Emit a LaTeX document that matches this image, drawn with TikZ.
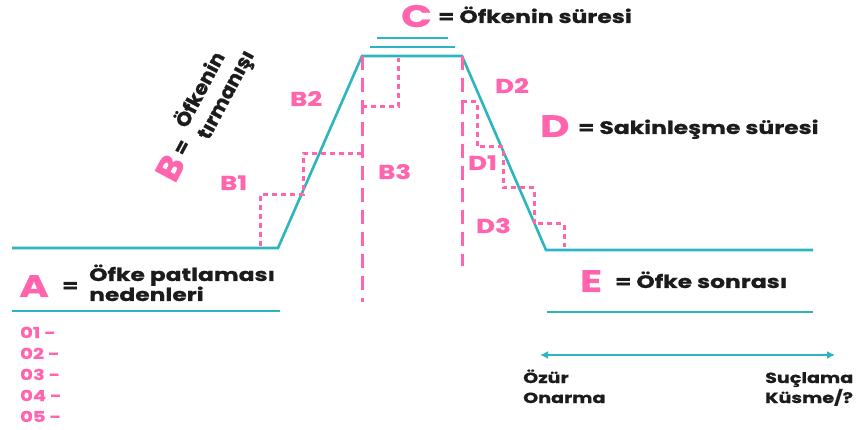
\documentclass[tikz,border=0pt]{standalone}
\usepackage{fontspec}
\setmainfont{Poppins}[FakeStretch=1.3, BoldFeatures={FakeBold=0.8}]
\newfontfamily\plainfont{Poppins}[FakeStretch=1.05, BoldFeatures={FakeBold=1.1}]
\usetikzlibrary{arrows.meta}
\definecolor{teal}{HTML}{2BB5BE}
\definecolor{hpink}{HTML}{FF64AC}
\definecolor{ink}{HTML}{1C1C1C}
\begin{document}
\begin{tikzpicture}[x=1pt,y=-1pt,
  tline/.style={draw=teal, line width=2.6pt},
  sdash/.style={draw=hpink, line width=3pt, dash pattern=on 5pt off 4pt},
  ldash/.style={draw=hpink, line width=3pt, dash pattern=on 14pt off 8pt},
  lbl/.style={font=\bfseries\fontsize{18}{22}\selectfont, text=ink, inner sep=0pt},
  rlbl/.style={font=\plainfont\bfseries\fontsize{19.5}{23}\selectfont, text=ink, inner sep=0pt},
  sml/.style={font=\bfseries\fontsize{14.7}{17}\selectfont, text=ink, inner sep=0pt},
  big/.style={font=\bfseries\fontsize{31}{31}\selectfont, text=hpink, inner sep=0pt},
  rbig/.style={font=\plainfont\bfseries\fontsize{34}{34}\selectfont, text=hpink, inner sep=0pt},
  plbl/.style={font=\bfseries\fontsize{20}{20}\selectfont, text=hpink, inner sep=0pt},
  num/.style={font=\bfseries\fontsize{15}{15}\selectfont, text=hpink, inner sep=0pt}]
\useasboundingbox (0,0) rectangle (857,430);
% main profile
\coordinate (p0) at (12,248);
\coordinate (p1) at (278,248);
\coordinate (p2) at (362,56);
\coordinate (p3) at (462,56);
\coordinate (p4) at (546,250);
\coordinate (p5) at (813,250);
\draw[tline, line join=miter] (p0) -- (p1) -- (p2) -- (p3) -- (p4) -- (p5);
\draw[tline] (370,47) -- (455,47);
\draw[tline] (377,38) -- (448,38);
\draw[tline] (12,311) -- (280,311);
\draw[tline] (547,312) -- (813,312);
% long dashed verticals
\draw[ldash] (362,56) -- (362,302);
\draw[ldash] (462,56) -- (462,266);
% B staircase
\draw[sdash] (260,246) -- (260,195) -- (303,195) -- (303,154) -- (362,154);
\draw[sdash] (362,107) -- (398,107) -- (398,58);
% D staircase
\draw[sdash] (462,102) -- (477,102) -- (477,147) -- (503,147) -- (503,188) -- (534,188) -- (534,224) -- (564,224) -- (564,247);
% arrow
\coordinate (al) at (540,355);
\coordinate (ar) at (835,355);
\draw[draw=teal, line width=2pt, {Latex[length=8pt,width=8pt]}-{Latex[length=8pt,width=8pt]}] (al) -- (ar);
% labels A
\node[big, anchor=base west] (A) at (19,297) {A};
\node[lbl, anchor=base west] (Aeq) at (62,292) {=};
\node[lbl, anchor=base west] (A1) at (89,281) {Öfke patlaması};
\node[lbl, anchor=base west] (A2) at (89,301) {nedenleri};
% C
\node[big, anchor=base west] (C) at (401,27) {C};
\node[lbl, anchor=base west] (C1) at (438,23) {= Öfkenin süresi};
% D
\node[big, anchor=base west] (D) at (540,137) {D};
\node[lbl, anchor=base west] (D1t) at (578,134) {= Sakinleşme süresi};
% E
\node[big, anchor=base west] (E) at (580,292) {E};
\node[lbl, anchor=base west] (E1) at (615,288) {= Öfke sonrası};
% B rotated
\node[rbig, anchor=center, rotate=62] (B) at (170,168) {B};
\node[rlbl, anchor=center, rotate=62] (Beq) at (183,148) {=};
\node[rlbl, anchor=center, rotate=62, align=left] (Bt) at (215,89) {Öfkenin\\[2pt]tırmanışı};
% step labels
\node[plbl, anchor=base west] (lB1) at (220,190) {B1};
\node[plbl, anchor=base west] (lB2) at (290,106) {B2};
\node[plbl, anchor=base west] (lB3) at (378,179) {B3};
\node[plbl, anchor=base west] (lD2) at (495,93) {D2};
\node[plbl, anchor=base west] (lD1) at (468,170) {D1};
\node[plbl, anchor=base west] (lD3) at (476,233) {D3};
% list
\node[num, anchor=base west] (n1) at (20,338) {01 -};
\node[num, anchor=base west] (n2) at (20,359) {02 -};
\node[num, anchor=base west] (n3) at (20,380) {03 -};
\node[num, anchor=base west] (n4) at (20,401) {04 -};
\node[num, anchor=base west] (n5) at (20,422) {05 -};
% bottom labels
\node[sml, anchor=base west] (oz) at (523,383) {Özür};
\node[sml, anchor=base west] (on) at (523,403) {Onarma};
\node[sml, anchor=base west] (su) at (765,383) {Suçlama};
\node[sml, anchor=base west] (ku) at (765,403) {Küsme/?};
\end{tikzpicture}
\end{document}
